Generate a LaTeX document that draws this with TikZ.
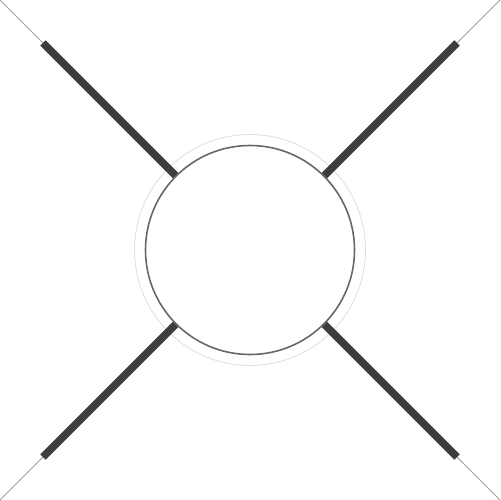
\documentclass[tikz,border=0pt]{standalone}
\begin{document}
\begin{tikzpicture}[x=0.02cm,y=-0.02cm,
  bar/.style={line width=7.5*0.02cm, draw=black!76, line cap=butt},
  wire/.style={line width=0.5pt, draw=black!38},
  hubstyle/.style={circle, draw=black!60, line width=0.9pt, fill=white, minimum size=209*0.02cm, inner sep=0pt},
  halo/.style={circle, draw=black!12, line width=0.5pt, minimum size=231*0.02cm, inner sep=0pt}]
\useasboundingbox (0,0) rectangle (500,500);
\fill[white] (0,0) rectangle (500,500);
\node[halo] (ring) at (250,250) {};
\node[hubstyle] (hub) at (250,250) {};
\coordinate (c1) at (0,0);
\coordinate (c2) at (500,0);
\coordinate (c3) at (0,500);
\coordinate (c4) at (500,500);
\coordinate (e1) at (43,43);
\coordinate (e2) at (457,43);
\coordinate (e3) at (43,457);
\coordinate (e4) at (457,457);
\draw[wire] (c1) -- (e1);
\draw[wire] (c2) -- (e2);
\draw[wire] (c3) -- (e3);
\draw[wire] (c4) -- (e4);
\draw[bar] (e1) -- (hub.135);
\draw[bar] (e2) -- (hub.45);
\draw[bar] (e3) -- (hub.225);
\draw[bar] (e4) -- (hub.315);
\end{tikzpicture}
\end{document}
